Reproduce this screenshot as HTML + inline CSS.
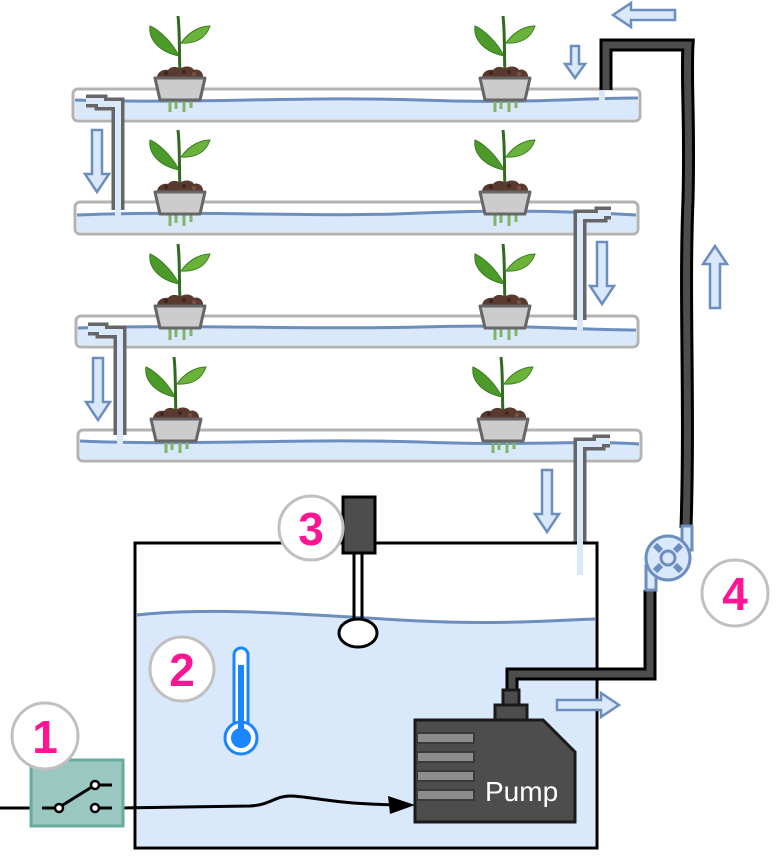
<!DOCTYPE html>
<html><head><meta charset="utf-8"><style>
html,body{margin:0;padding:0;background:#fff;width:778px;height:863px;overflow:hidden}
svg{display:block}
text{font-family:"Liberation Sans",sans-serif}
</style></head><body>
<svg width="778" height="863" viewBox="0 0 778 863" xmlns="http://www.w3.org/2000/svg">
<defs>
<g id="plant">
  <path d="M0,-4 C-1,-25 0,-45 -2,-62" stroke="#2e6b1e" stroke-width="3" fill="none"/>
  <path d="M-1,-22 C-10,-40 -25,-50 -30,-52 C-32,-38 -20,-26 -1,-22Z" fill="#4c9a2a" stroke="#3a7d20" stroke-width="1"/>
  <path d="M1,-35 C10,-48 22,-52 30,-52 C26,-40 16,-34 1,-35Z" fill="#6ab23a" stroke="#3a7d20" stroke-width="1"/>
  <path d="M-23,0 C-23,-6 -17,-9 -12,-8 C-9,-12 -3,-12 0,-9 C4,-13 12,-12 14,-8 C19,-10 24,-5 23,0Z" fill="#5a3a2e"/>
  <circle cx="-14" cy="-5" r="2" fill="#3d2620"/><circle cx="4" cy="-6" r="2" fill="#3d2620"/><circle cx="14" cy="-4" r="2" fill="#7a5245"/>
  <path d="M-10,22 v12 M-4,22 v9 M4,22 v12 M11,22 v8" stroke="#82b366" stroke-width="3"/>
  <polygon points="-25,0 25,0 20,22 -20,22" fill="#cccccc" stroke="#666" stroke-width="3" stroke-linejoin="round"/>
</g>
<path id="arrowDown" d="M-5,0 L5,0 L5,44 L12,44 L0,62 L-12,44 L-5,44Z" fill="#dae8fc" stroke="#6c8ebf" stroke-width="2.5" stroke-linejoin="miter"/>
<path id="arrowDownS" d="M-4,0 L4,0 L4,18 L10,18 L0,32 L-10,18 L-4,18Z" fill="#dae8fc" stroke="#6c8ebf" stroke-width="2.5"/>
</defs>

<g>
  <rect x="73" y="89" width="567" height="32" rx="5" fill="#fff" stroke="#b3b3b3" stroke-width="3"/>
  <path d="M75,100 C200,104 300,96 420,100 C520,104 580,98 638,98 L638,119 L75,119Z" fill="#dae8fc"/>
  <path d="M75,100 C200,104 300,96 420,100 C520,104 580,98 638,98" stroke="#6c8ebf" stroke-width="3" fill="none"/>
</g>
<g>
  <rect x="75" y="202" width="563" height="32" rx="5" fill="#fff" stroke="#b3b3b3" stroke-width="3"/>
  <path d="M77,215 C200,210 320,218 420,213 C520,209 580,212 636,215 L636,232 L77,232Z" fill="#dae8fc"/>
  <path d="M77,215 C200,210 320,218 420,213 C520,209 580,212 636,215" stroke="#6c8ebf" stroke-width="3" fill="none"/>
</g>
<g>
  <rect x="76" y="316" width="562" height="31" rx="5" fill="#fff" stroke="#b3b3b3" stroke-width="3"/>
  <path d="M78,328 C200,324 300,330 420,327 C520,324 580,330 636,330 L636,345 L78,345Z" fill="#dae8fc"/>
  <path d="M78,328 C200,324 300,330 420,327 C520,324 580,330 636,330" stroke="#6c8ebf" stroke-width="3" fill="none"/>
</g>
<g>
  <rect x="78" y="430" width="563" height="31" rx="5" fill="#fff" stroke="#b3b3b3" stroke-width="3"/>
  <path d="M80,441 C200,446 300,438 420,442 C520,446 590,440 639,444 L639,459 L80,459Z" fill="#dae8fc"/>
  <path d="M80,441 C200,446 300,438 420,442 C520,446 590,440 639,444" stroke="#6c8ebf" stroke-width="3" fill="none"/>
</g>

<use href="#plant" x="180" y="78"/>
<use href="#plant" x="505" y="78"/>
<use href="#plant" x="180" y="192"/>
<use href="#plant" x="505" y="192"/>
<use href="#plant" x="180" y="306"/>
<use href="#plant" x="505" y="306"/>
<use href="#plant" x="176" y="419"/>
<use href="#plant" x="503" y="419"/>

<g>
  <path d="M86,101 L101,101 L101,104 L118,104 L118,210" stroke="#666" stroke-width="13" fill="none" stroke-linejoin="miter"/>
  <path d="M86,101 L101,101 L101,104 L118,104 L118,222" stroke="#dae8fc" stroke-width="6" fill="none"/>
</g>
<g>
  <path d="M611,213 L601,213 L601,216 L580,216 L580,320" stroke="#666" stroke-width="13" fill="none"/>
  <path d="M611,213 L601,213 L601,216 L580,216 L580,330" stroke="#dae8fc" stroke-width="6" fill="none"/>
</g>
<g>
  <path d="M88,329 L102,329 L102,332 L120,332 L120,435" stroke="#666" stroke-width="13" fill="none"/>
  <path d="M88,329 L102,329 L102,332 L120,332 L120,446" stroke="#dae8fc" stroke-width="6" fill="none"/>
</g>
<g>
  <path d="M610,441 L599,441 L599,444 L580,444 L580,560" stroke="#666" stroke-width="13" fill="none"/>
  <path d="M610,441 L599,441 L599,444 L580,444 L580,575" stroke="#dae8fc" stroke-width="6" fill="none"/>
</g>

<g>
  <rect x="135" y="543" width="462" height="305" fill="#fff" stroke="#000" stroke-width="3"/>
  <path d="M137,615 C220,606 320,616 420,621 C500,625 560,620 595,619 L595,846 L137,846Z" fill="#dae8fc"/>
  <path d="M137,615 C220,606 320,616 420,621 C500,625 560,620 595,619" stroke="#6c8ebf" stroke-width="3" fill="none"/>
</g>
<path d="M580,540 L580,575" stroke="#dae8fc" stroke-width="6"/>

<use href="#arrowDown" x="97" y="130"/>
<use href="#arrowDown" x="602" y="242"/>
<use href="#arrowDown" x="98" y="358"/>
<use href="#arrowDown" x="547" y="470"/>
<use href="#arrowDownS" x="575" y="46"/>
<use href="#arrowDown" transform="translate(715,308) rotate(180)"/>
<use href="#arrowDown" transform="translate(675,15) rotate(90)"/>
<use href="#arrowDown" transform="translate(557,705) rotate(-90)"/>

<g>
  <path d="M512,690 L512,674 L650,674 L650,590" stroke="#000" stroke-width="13" fill="none"/>
  <path d="M512,690 L512,674 L650,674 L650,590" stroke="#4d4d4d" stroke-width="7" fill="none"/>
  <path d="M686,528 C690,400 684,300 688,200 C690,120 686,80 688,45 L606,45 L606,90" stroke="#000" stroke-width="13" fill="none"/>
  <path d="M686,528 C690,400 684,300 688,200 C690,120 686,80 688,45 L606,45 L606,90" stroke="#4d4d4d" stroke-width="7" fill="none"/>
</g>
<path d="M602,91 L602,102" stroke="#dae8fc" stroke-width="6"/>

<g stroke="#6c8ebf" stroke-width="3" fill="#dae8fc">
  <rect x="682" y="526" width="10" height="24"/>
  <rect x="646" y="566" width="10" height="24"/>
  <circle cx="668" cy="558" r="22"/>
  <path d="M661,551 L655,545 M675,551 L681,545 M661,565 L655,571 M675,565 L681,571" stroke-width="6"/>
  <circle cx="668" cy="558" r="7" stroke-width="3"/>
</g>

<g>
  <path d="M354,553 L354,626 M362,553 L362,626" stroke="#000" stroke-width="3"/>
  <rect x="343" y="497" width="32" height="56" fill="#4d4d4d" stroke="#000" stroke-width="3"/>
  <ellipse cx="358" cy="633" rx="19" ry="14" fill="#fff" stroke="#000" stroke-width="3"/>
</g>

<g>
  <rect x="234" y="648" width="14" height="80" rx="7" fill="#fff" stroke="#1a85ff" stroke-width="3"/>
  <circle cx="241" cy="738" r="16" fill="#fff" stroke="#1a85ff" stroke-width="3"/>
  <circle cx="241" cy="738" r="10" fill="#1a85ff"/>
  <rect x="238" y="665" width="6" height="70" fill="#1a85ff"/>
</g>

<g>
  <rect x="503" y="690" width="16" height="15" fill="#4d4d4d" stroke="#1a1a1a" stroke-width="3"/>
  <rect x="495" y="705" width="32" height="15" fill="#4d4d4d" stroke="#1a1a1a" stroke-width="3"/>
  <polygon points="415,720 543,720 575,752 575,822 415,822" fill="#4d4d4d" stroke="#1a1a1a" stroke-width="3"/>
  <g fill="#8c8c8c" stroke="#3a3a3a" stroke-width="2">
    <rect x="417" y="733" width="57" height="10"/>
    <rect x="417" y="752" width="57" height="10"/>
    <rect x="417" y="771" width="57" height="10"/>
    <rect x="417" y="790" width="57" height="10"/>
  </g>
  <text x="485" y="801" font-size="28" fill="#fff">Pump</text>
</g>

<g>
  <path d="M0,808 L31,808" stroke="#000" stroke-width="3"/>
  <path d="M123,808 L250,806 C270,805 275,796 290,796 C310,796 330,804 400,805" stroke="#000" stroke-width="3" fill="none"/>
  <polygon points="415,805 388,796 390,814" fill="#000"/>
</g>
<g>
  <rect x="31" y="760" width="92" height="66" fill="#9ac7bf" stroke="#67ab9f" stroke-width="3"/>
  <path d="M42,808 L58,808 M58,808 L95,785 M95,785 L112,785 M95,808 L112,808" stroke="#000" stroke-width="3"/>
  <circle cx="59" cy="808" r="4" fill="#fff" stroke="#000" stroke-width="2.5"/>
  <circle cx="95" cy="785" r="4" fill="#fff" stroke="#000" stroke-width="2.5"/>
  <circle cx="95" cy="808" r="4" fill="#fff" stroke="#000" stroke-width="2.5"/>
</g>

<g>
  <circle cx="45" cy="736" r="33" fill="#fff" stroke="#c0c0c0" stroke-width="3"/>
  <text x="45" y="753" font-size="46" font-weight="bold" fill="#ff1493" text-anchor="middle">1</text>
</g>
<g>
  <circle cx="182" cy="669" r="32" fill="#fff" stroke="#c0c0c0" stroke-width="3"/>
  <text x="182" y="686" font-size="46" font-weight="bold" fill="#ff1493" text-anchor="middle">2</text>
</g>
<g>
  <circle cx="311" cy="528" r="32" fill="#fff" stroke="#c0c0c0" stroke-width="3"/>
  <text x="311" y="545" font-size="46" font-weight="bold" fill="#ff1493" text-anchor="middle">3</text>
</g>
<g>
  <circle cx="735" cy="593" r="33" fill="#fff" stroke="#c0c0c0" stroke-width="3"/>
  <text x="735" y="610" font-size="46" font-weight="bold" fill="#ff1493" text-anchor="middle">4</text>
</g>
</svg>
</body></html>
